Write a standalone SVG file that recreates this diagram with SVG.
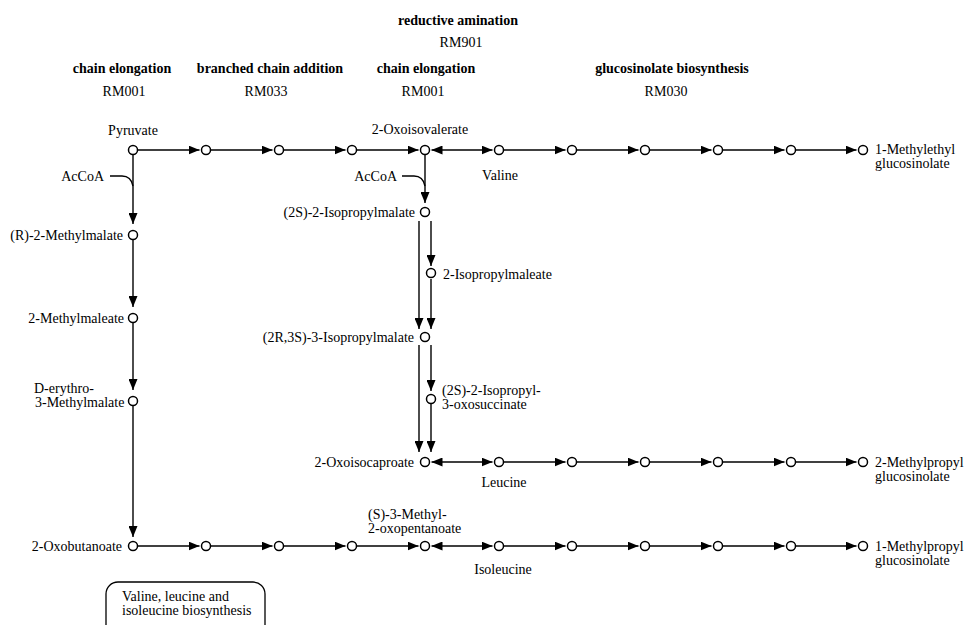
<svg xmlns="http://www.w3.org/2000/svg" width="969" height="625" viewBox="0 0 969 625">
<style>
text{font-family:"Liberation Serif","Times New Roman",serif;font-size:14px;fill:#000}
.h{font-weight:bold}
.m{text-anchor:middle}
.e{text-anchor:end}
.n{fill:#fff;stroke:#000;stroke-width:1.5}
.c{fill:none;stroke:#000;stroke-width:1.4}
.a{marker-end:url(#ah)}
.d{marker-start:url(#ah);marker-end:url(#ah)}
</style>
<defs>
<marker id="ah" viewBox="0 0 11 9" refX="11" refY="4.5" markerWidth="11" markerHeight="9" markerUnits="userSpaceOnUse" orient="auto-start-reverse">
<path d="M0,0 L11,4.5 L0,9 z" fill="#000"/>
</marker>
</defs>
<rect width="969" height="625" fill="#fff"/>

<g id="headers">
<text class="h m" x="458" y="25">reductive amination</text>
<text class="m" x="461" y="47">RM901</text>
<text class="h m" x="122" y="73">chain elongation</text>
<text class="m" x="124" y="96">RM001</text>
<text class="h m" x="270" y="73">branched chain addition</text>
<text class="m" x="266" y="96">RM033</text>
<text class="h m" x="426" y="73">chain elongation</text>
<text class="m" x="423" y="96">RM001</text>
<text class="h m" x="672" y="73">glucosinolate biosynthesis</text>
<text class="m" x="666" y="96">RM030</text>
</g>

<g id="connectors">
<line class="c a" x1="137.5" y1="150" x2="199.5" y2="150"/>
<line class="c a" x1="210.5" y1="150" x2="272.5" y2="150"/>
<line class="c a" x1="283.5" y1="150" x2="345.5" y2="150"/>
<line class="c a" x1="356.5" y1="150" x2="418.5" y2="150"/>
<line class="c d" x1="431.5" y1="150" x2="492.5" y2="150"/>
<line class="c a" x1="503.5" y1="150" x2="565.5" y2="150"/>
<line class="c a" x1="576.5" y1="150" x2="638.5" y2="150"/>
<line class="c a" x1="649.5" y1="150" x2="711.5" y2="150"/>
<line class="c a" x1="722.5" y1="150" x2="784.5" y2="150"/>
<line class="c a" x1="795.5" y1="150" x2="856.5" y2="150"/>
<line class="c d" x1="431.5" y1="462" x2="492.5" y2="462"/>
<line class="c a" x1="503.5" y1="462" x2="565.5" y2="462"/>
<line class="c a" x1="576.5" y1="462" x2="638.5" y2="462"/>
<line class="c a" x1="649.5" y1="462" x2="711.5" y2="462"/>
<line class="c a" x1="722.5" y1="462" x2="784.5" y2="462"/>
<line class="c a" x1="795.5" y1="462" x2="856.5" y2="462"/>
<line class="c a" x1="137.5" y1="546" x2="199.5" y2="546"/>
<line class="c a" x1="210.5" y1="546" x2="272.5" y2="546"/>
<line class="c a" x1="283.5" y1="546" x2="345.5" y2="546"/>
<line class="c a" x1="356.5" y1="546" x2="418.5" y2="546"/>
<line class="c d" x1="431.5" y1="546" x2="492.5" y2="546"/>
<line class="c a" x1="503.5" y1="546" x2="565.5" y2="546"/>
<line class="c a" x1="576.5" y1="546" x2="638.5" y2="546"/>
<line class="c a" x1="649.5" y1="546" x2="711.5" y2="546"/>
<line class="c a" x1="722.5" y1="546" x2="784.5" y2="546"/>
<line class="c a" x1="795.5" y1="546" x2="856.5" y2="546"/>
<line class="c a" x1="133" y1="154.5" x2="133" y2="224"/>
<line class="c a" x1="133" y1="239.5" x2="133" y2="307"/>
<line class="c a" x1="133" y1="322.5" x2="133" y2="390"/>
<line class="c a" x1="133" y1="405.5" x2="133" y2="537"/>
<path class="c" d="M110,176 L122,176 Q131,176 133,186"/>
<line class="c a" x1="425" y1="154.5" x2="425" y2="203"/>
<path class="c" d="M402,176 L414,176 Q423,176 425,186"/>
<line class="c a" x1="419" y1="221" x2="419" y2="329"/>
<line class="c a" x1="431" y1="221" x2="431" y2="266"/>
<line class="c a" x1="431" y1="279" x2="431" y2="329"/>
<line class="c a" x1="419" y1="345" x2="419" y2="452"/>
<line class="c a" x1="431" y1="345" x2="431" y2="391"/>
<line class="c a" x1="431" y1="404" x2="431" y2="452"/>
</g>

<g id="pyruvate"><circle class="n" cx="133" cy="150" r="4.5"/><text class="m" x="133" y="135">Pyruvate</text></g>
<g id="acoa1"><text class="e" x="104" y="181">AcCoA</text></g>
<g id="r1n2"><circle class="n" cx="206" cy="150" r="4.5"/></g>
<g id="r1n3"><circle class="n" cx="279" cy="150" r="4.5"/></g>
<g id="r1n4"><circle class="n" cx="352" cy="150" r="4.5"/></g>
<g id="oxoisovalerate"><circle class="n" cx="425" cy="150" r="4.5"/><text class="m" x="420" y="134">2-Oxoisovalerate</text></g>
<g id="acoa2"><text class="e" x="397" y="181">AcCoA</text></g>
<g id="valine"><circle class="n" cx="499" cy="150" r="4.5"/><text class="m" x="500" y="180">Valine</text></g>
<g id="r1n7"><circle class="n" cx="572" cy="150" r="4.5"/></g>
<g id="r1n8"><circle class="n" cx="645" cy="150" r="4.5"/></g>
<g id="r1n9"><circle class="n" cx="718" cy="150" r="4.5"/></g>
<g id="r1n10"><circle class="n" cx="791" cy="150" r="4.5"/></g>
<g id="methylethylglucosinolate"><circle class="n" cx="863" cy="150" r="4.5"/><text x="875" y="154">1-Methylethyl</text><text x="875" y="168">glucosinolate</text></g>

<g id="r2methylmalate"><circle class="n" cx="133" cy="235" r="4.5"/><text class="e" x="123" y="240">(R)-2-Methylmalate</text></g>
<g id="methylmaleate"><circle class="n" cx="133" cy="318" r="4.5"/><text class="e" x="124" y="323">2-Methylmaleate</text></g>
<g id="derythro"><circle class="n" cx="133" cy="401" r="4.5"/><text x="34" y="393">D-erythro-</text><text x="35" y="407">3-Methylmalate</text></g>

<g id="isopropylmalate2s"><circle class="n" cx="425" cy="212" r="4.5"/><text class="e" x="415" y="217">(2S)-2-Isopropylmalate</text></g>
<g id="isopropylmaleate"><circle class="n" cx="431" cy="273" r="4.5"/><text x="443" y="279">2-Isopropylmaleate</text></g>
<g id="isopropylmalate2r3s"><circle class="n" cx="425" cy="337" r="4.5"/><text class="e" x="414" y="342">(2R,3S)-3-Isopropylmalate</text></g>
<g id="oxosuccinate"><circle class="n" cx="431" cy="399" r="4.5"/><text x="442" y="395">(2S)-2-Isopropyl-</text><text x="442" y="409">3-oxosuccinate</text></g>
<g id="oxoisocaproate"><circle class="n" cx="425" cy="462" r="4.5"/><text class="e" x="414" y="467">2-Oxoisocaproate</text></g>
<g id="leucine"><circle class="n" cx="499" cy="462" r="4.5"/><text class="m" x="504" y="487">Leucine</text></g>
<g id="r2n3"><circle class="n" cx="572" cy="462" r="4.5"/></g>
<g id="r2n4"><circle class="n" cx="645" cy="462" r="4.5"/></g>
<g id="r2n5"><circle class="n" cx="718" cy="462" r="4.5"/></g>
<g id="r2n6"><circle class="n" cx="791" cy="462" r="4.5"/></g>
<g id="methylpropylglucosinolate2"><circle class="n" cx="863" cy="462" r="4.5"/><text x="875" y="467">2-Methylpropyl</text><text x="875" y="481">glucosinolate</text></g>

<g id="oxobutanoate"><circle class="n" cx="133" cy="546" r="4.5"/><text class="e" x="122" y="551">2-Oxobutanoate</text></g>
<g id="r3n2"><circle class="n" cx="206" cy="546" r="4.5"/></g>
<g id="r3n3"><circle class="n" cx="279" cy="546" r="4.5"/></g>
<g id="r3n4"><circle class="n" cx="352" cy="546" r="4.5"/></g>
<g id="methyloxopentanoate"><circle class="n" cx="425" cy="546" r="4.5"/><text x="368" y="519">(S)-3-Methyl-</text><text x="368" y="533">2-oxopentanoate</text></g>
<g id="isoleucine"><circle class="n" cx="499" cy="546" r="4.5"/><text class="m" x="503" y="574">Isoleucine</text></g>
<g id="r3n7"><circle class="n" cx="572" cy="546" r="4.5"/></g>
<g id="r3n8"><circle class="n" cx="645" cy="546" r="4.5"/></g>
<g id="r3n9"><circle class="n" cx="718" cy="546" r="4.5"/></g>
<g id="r3n10"><circle class="n" cx="791" cy="546" r="4.5"/></g>
<g id="methylpropylglucosinolate1"><circle class="n" cx="863" cy="546" r="4.5"/><text x="875" y="551">1-Methylpropyl</text><text x="875" y="565">glucosinolate</text></g>

<g id="mapbox"><rect x="106" y="582" width="159" height="62" rx="12" ry="12" fill="#fff" stroke="#000" stroke-width="1.3"/><text x="122" y="601">Valine, leucine and</text><text x="122" y="615">isoleucine biosynthesis</text></g>
</svg>
